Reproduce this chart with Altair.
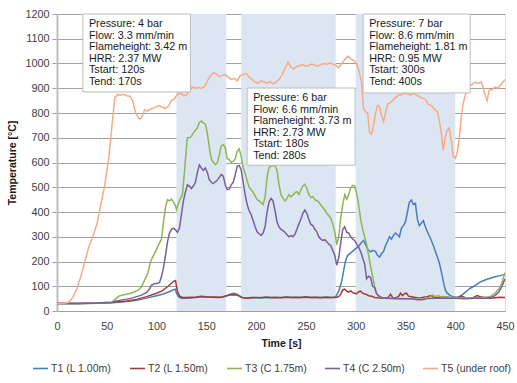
import altair as alt
import pandas as pd

# ---------------- measured gas temperatures ----------------
t1_time = [0, 20, 40, 55, 70, 80, 90, 100, 106, 110, 114, 117, 119, 120, 122, 125, 130, 135, 140, 145,
           150, 155, 160, 165, 170, 174, 177, 180, 183, 186, 190, 195, 200, 210, 220, 230, 240, 250, 260,
           270, 277, 280, 283, 286, 288, 290, 292, 295, 298, 300, 303, 306, 308, 310, 312, 315, 317, 320,
           322, 324, 326, 328, 330, 332, 334, 336, 338, 340, 342, 344, 346, 348, 350, 352, 354, 356, 358,
           360, 362, 364, 366, 368, 370, 372, 375, 378, 381, 384, 386, 388, 390, 392, 395, 398, 400, 403,
           406, 409, 412, 415, 418, 421, 424, 428, 432, 436, 440, 444, 447, 450]
t1_temp = [30, 30, 31, 33, 38, 43, 52, 62, 68, 74, 80, 86, 88, 72, 58, 52, 52, 53, 55, 58,
           56, 56, 55, 55, 60, 68, 72, 70, 62, 55, 52, 53, 54, 55, 54, 56, 55, 56, 55,
           56, 55, 58, 80, 120, 165, 205, 225, 235, 245, 252, 262, 278, 285, 268, 250, 238, 245, 240,
           225, 218, 232, 240, 265, 282, 300, 290, 305, 315, 308, 300, 335, 345, 360, 400, 440, 448, 430,
           435, 370, 345, 355, 365, 340, 320, 295, 265, 230, 195, 160, 120, 85, 72, 62, 58, 56, 55,
           62, 72, 82, 92, 98, 106, 115, 122, 128, 133, 138, 142, 145, 148]

t2_time = [0, 20, 40, 55, 70, 80, 90, 100, 106, 110, 114, 117, 119, 121, 123, 126, 130, 135, 140, 145,
           150, 155, 160, 165, 170, 174, 177, 180, 183, 186, 190, 195, 200, 205, 210, 215, 220, 225, 230,
           235, 240, 245, 250, 255, 260, 265, 270, 275, 280, 283, 285, 287, 289, 291, 293, 295, 297, 299,
           301, 303, 305, 307, 310, 313, 316, 319, 322, 326, 330, 333, 335, 337, 340, 343, 345, 347, 349,
           351, 353, 356, 360, 364, 368, 372, 375, 378, 382, 386, 390, 394, 398, 402, 406, 410, 414, 418,
           422, 425, 430, 435, 440, 445, 450]
t2_temp = [30, 30, 31, 34, 40, 47, 58, 72, 82, 95, 108, 120, 123, 80, 60, 55, 55, 56, 57, 60,
           58, 57, 57, 56, 62, 65, 66, 65, 60, 54, 52, 55, 55, 54, 57, 55, 56, 54, 57,
           55, 56, 55, 58, 55, 56, 54, 56, 55, 55, 58, 68, 85, 88, 80, 76, 82, 74, 72,
           70, 78, 80, 72, 68, 62, 60, 55, 54, 52, 53, 56, 68, 55, 54, 58, 72, 62, 70,
           72, 60, 58, 55, 52, 56, 58, 62, 56, 54, 56, 58, 55, 54, 56, 60, 55, 52, 54,
           62, 58, 55, 52, 54, 56, 55]

t3_time = [0, 20, 40, 55, 58, 62, 66, 70, 74, 78, 82, 85, 88, 91, 94, 97, 100, 103, 105, 107,
           109, 111, 113, 115, 117, 119, 120, 122, 124, 126, 128, 130, 131, 133, 135, 137, 139, 141, 143,
           145, 147, 149, 151, 153, 155, 157, 159, 161, 163, 165, 167, 169, 171, 173, 175, 177, 179, 181,
           183, 185, 187, 189, 191, 193, 195, 197, 199, 201, 203, 205, 207, 209, 211, 213, 215, 217, 219,
           221, 223, 225, 227, 229, 231, 233, 235, 237, 239, 241, 243, 245, 247, 249, 251, 253, 255, 257,
           259, 261, 263, 265, 267, 269, 271, 273, 275, 277, 279, 281, 283, 285, 287, 289, 291, 293, 295,
           297, 299, 301, 303, 305, 307, 309, 311, 313, 315, 317, 319, 321, 323, 326, 330, 340, 350, 360,
           365, 370, 374, 377, 380, 383, 386, 390, 395, 400, 410, 420, 430, 436, 440, 444, 447, 450]
t3_temp = [30, 30, 32, 35, 45, 60, 65, 68, 72, 78, 85, 100, 125, 150, 200, 225, 250, 275, 290, 360,
           420, 450, 445, 452, 440, 425, 410, 435, 455, 470, 560, 660, 700, 700, 705, 720, 730, 740, 762,
           768, 760, 755, 720, 660, 615, 600, 592, 598, 630, 668, 672, 660, 615, 612, 600, 605, 615, 645,
           655, 625, 580, 556, 525, 500, 490, 480, 465, 450, 445, 438, 430, 460, 540, 580, 585, 588, 585,
           570, 510, 470, 455, 445, 455, 470, 462, 468, 478, 482, 470, 490, 505, 512, 495, 470, 458, 462,
           450, 446, 440, 428, 418, 408, 395, 385, 375, 350, 320, 268, 300, 375, 430, 470, 452, 470, 498,
           508, 505, 475, 430, 370, 330, 300, 270, 225, 180, 140, 100, 72, 58, 54, 52, 52, 50, 50,
           48, 52, 55, 65, 58, 62, 55, 58, 55, 55, 54, 54, 55, 60, 72, 90, 115, 155]

t4_time = [0, 20, 40, 55, 60, 65, 70, 75, 80, 85, 90, 93, 95, 98, 101, 103, 105, 107, 109, 111,
           113, 115, 117, 119, 121, 123, 125, 127, 129, 131, 133, 135, 137, 139, 141, 143, 145, 147, 149,
           151, 153, 155, 157, 159, 161, 163, 165, 167, 169, 171, 173, 175, 177, 179, 181, 183, 185, 187,
           189, 191, 193, 195, 197, 199, 201, 203, 205, 207, 209, 211, 213, 215, 217, 219, 221, 223, 225,
           227, 229, 231, 233, 235, 237, 239, 241, 243, 245, 247, 249, 251, 253, 255, 257, 259, 261, 263,
           265, 267, 269, 271, 273, 275, 277, 279, 281, 283, 285, 287, 289, 291, 293, 295, 297, 299, 301,
           303, 305, 307, 309, 311, 313, 315, 317, 319, 321, 323, 326, 330, 340, 350, 358, 362, 367, 372,
           380, 390, 400, 410, 420, 430, 436, 440, 444, 447, 450]
t4_temp = [30, 30, 32, 35, 40, 45, 48, 52, 58, 64, 75, 90, 105, 110, 112, 115, 140, 175, 225, 280,
           315, 330, 335, 328, 318, 335, 390, 445, 480, 510, 505, 495, 505, 520, 560, 590, 578, 568, 578,
           560, 530, 520, 515, 522, 528, 540, 552, 545, 510, 490, 492, 510, 520, 550, 585, 588, 570, 520,
           470, 430, 405, 390, 365, 340, 320, 312, 305, 315, 340, 400, 440, 455, 445, 405, 360, 340, 330,
           325, 318, 308, 300, 305, 300, 310, 330, 352, 372, 395, 408, 395, 370, 350, 345, 330, 320, 300,
           290, 285, 288, 280, 270, 265, 245, 225, 185, 215, 275, 330, 340, 318, 315, 300, 290, 285, 270,
           258, 240, 215, 190, 130, 140, 135, 100, 95, 70, 62, 55, 52, 50, 50, 48, 45, 45, 50,
           52, 52, 52, 50, 52, 52, 55, 62, 78, 100, 130]

t5_time = [0, 5, 10, 13, 16, 20, 24, 28, 32, 36, 40, 44, 48, 52, 55, 58, 61, 64, 67, 70,
           73, 76, 79, 82, 84, 86, 88, 91, 94, 97, 100, 103, 106, 109, 112, 115, 118, 121, 124,
           127, 130, 133, 136, 139, 142, 145, 148, 151, 154, 157, 160, 163, 166, 169, 172, 175, 178,
           181, 184, 187, 190, 193, 196, 199, 202, 205, 208, 211, 214, 217, 220, 223, 226, 229, 232,
           235, 238, 241, 244, 247, 250, 253, 256, 259, 262, 265, 268, 271, 274, 277, 280, 283, 286,
           289, 292, 295, 298, 301, 304, 306, 308, 310, 312, 314, 316, 318, 320, 322, 324, 326, 328,
           330, 332, 334, 337, 340, 343, 346, 349, 352, 355, 358, 361, 364, 367, 370, 373, 376, 379,
           382, 384, 386, 388, 390, 392, 394, 396, 398, 400, 402, 404, 406, 408, 410, 412, 414, 417,
           420, 423, 426, 428, 430, 432, 434, 437, 440, 443, 446, 450]
t5_temp = [30, 30, 33, 40, 55, 90, 140, 200, 260, 300, 350, 430, 510, 620, 740, 860, 875, 872, 876, 870,
           868, 850, 800, 778, 776, 790, 812, 808, 815, 820, 826, 830, 822, 818, 828, 850, 858, 876, 880,
           870, 872, 890, 905, 900, 903, 900, 905, 930, 950, 962, 958, 948, 952, 955, 945, 935, 940,
           930, 950, 955, 960, 945, 935, 925, 920, 930, 925, 920, 928, 918, 925, 935, 953, 980, 1005,
           985, 978, 988, 992, 995, 990, 992, 998, 993, 990, 995, 1000, 996, 1002, 998, 992, 982, 1000,
           1015, 1030, 1020, 1012, 1000, 960, 920, 815, 805, 800, 720, 715, 750, 800, 832, 825, 790, 765,
           800, 835, 840, 850, 862, 872, 875, 880, 878, 872, 880, 872, 865, 860, 855, 835, 830, 815,
           805, 770, 720, 650, 705, 730, 740, 690, 625, 617, 640, 700, 780, 840, 870, 900, 910, 915,
           925, 920, 925, 905, 870, 850, 890, 895, 905, 900, 915, 935]

series_names = ["T1 (L 1.00m)", "T2 (L 1.50m)", "T3 (C 1.75m)", "T4 (C 2.50m)", "T5 (under roof)"]
series_colors = ["#4a7ebb", "#a33a37", "#8fb554", "#7a5e9e", "#f8ab82"]

# ---------------- burner phases ----------------
phase_start = [120, 185, 300]
phase_end = [170, 280, 400]

phase_text = [
    ["Pressure: 4 bar", "Flow: 3.3 mm/min", "Flameheight: 3.42 m", "HRR: 2.37 MW", "Tstart: 120s", "Tend: 170s"],
    ["Pressure: 6 bar", "Flow: 6.6 mm/min", "Flameheight: 3.73 m", "HRR: 2.73 MW", "Tstart: 180s", "Tend: 280s"],
    ["Pressure: 7 bar", "Flow: 8.6 mm/min", "Flameheight: 1.81 m", "HRR: 0.95 MW", "Tstart: 300s", "Tend: 400s"],
]

# ---------------- tables ----------------
frames = []
for name, tt, vv in zip(series_names,
                        [t1_time, t2_time, t3_time, t4_time, t5_time],
                        [t1_temp, t2_temp, t3_temp, t4_temp, t5_temp]):
    frames.append(pd.DataFrame({"time": tt, "temp": vv, "series": name}))
lines_df = pd.concat(frames, ignore_index=True)

phases_df = pd.DataFrame({"start": phase_start, "end": phase_end})

# placement of the info boxes in axis units
boxes_df = pd.DataFrame({
    "x0": [26, 191, 307.5],
    "x1": [134, 299.5, 415],
    "y0": [1200, 901, 1200],
    "y1": [885, 589, 881],
    "label": ["\n".join(lines) for lines in phase_text],
})

FONT = "Liberation Sans"

x_scale = alt.Scale(domain=[0, 450], nice=False, zero=False)
y_scale = alt.Scale(domain=[0, 1200], nice=False)

x_axis = alt.Axis(values=list(range(0, 451, 50)), title="Time [s]", grid=False,
                  ticks=False, domain=False, labelPadding=9, titlePadding=8,
                  labelFontSize=10.8, titleFontSize=10.5, labelColor="#404040",
                  titleColor="#1a1a1a", labelFont=FONT, titleFont=FONT,
                  titleFontWeight="bold", labelFlush=False, labelOverlap=False, format="d")

y_axis = alt.Axis(values=list(range(0, 1201, 100)), title="Temperature [°C]",
                  grid=True, gridColor="#a0a0a0", gridWidth=1,
                  tickSize=5, tickColor="#a0a0a0", domainColor="#bdbdbd", domainWidth=2,
                  labelPadding=3, titlePadding=7, labelFontSize=10.8, titleFontSize=10.5,
                  labelColor="#404040", titleColor="#1a1a1a", labelFont=FONT,
                  titleFont=FONT, titleFontWeight="bold", labelOverlap=False, format="d",
                  labelFlush=False)

bands = alt.Chart(phases_df).mark_rect(color="#dce6f2").encode(
    x=alt.X("start:Q", scale=x_scale, axis=x_axis),
    x2="end:Q",
    y=alt.value(0),
    y2=alt.value(297),
)

lines = alt.Chart(lines_df).mark_line(strokeWidth=1.5, interpolate="linear").encode(
    x=alt.X("time:Q", scale=x_scale, axis=x_axis),
    y=alt.Y("temp:Q", scale=y_scale, axis=y_axis),
    color=alt.Color("series:N",
                    scale=alt.Scale(domain=series_names, range=series_colors),
                    legend=alt.Legend(title=None, orient="none", direction="horizontal",
                                      legendX=-25, legendY=346, columns=5,
                                      symbolType="stroke", symbolSize=225, symbolStrokeWidth=1.6,
                                      labelOffset=2, columnPadding=14, labelFontSize=10.5,
                                      labelFont=FONT, labelColor="#404040")),
    detail="series:N",
)

box_rects = alt.Chart(boxes_df).mark_rect(fill="white", stroke="#bcbcbc", strokeWidth=1).encode(
    x=alt.X("x0:Q", scale=x_scale, axis=x_axis),
    x2="x1:Q",
    y=alt.Y("y0:Q", scale=y_scale, axis=y_axis),
    y2="y1:Q",
)

box_labels = alt.Chart(boxes_df).mark_text(
    align="left", baseline="top", lineBreak="\n", lineHeight=11.6,
    fontSize=10.8, font=FONT, color="#1a1a1a", dx=6, dy=4,
).encode(
    x=alt.X("x0:Q", scale=x_scale, axis=x_axis),
    y=alt.Y("y0:Q", scale=y_scale, axis=y_axis),
    text="label:N",
)

chart = alt.layer(bands, lines, box_rects, box_labels).properties(
    width=448,
    height=297,
    autosize="none",
    padding={"left": 57, "top": 14, "right": 12, "bottom": 72},
).configure_view(stroke=None).configure(background="white")

chart.save("out.html", embed_options={"renderer": "svg", "actions": False})
